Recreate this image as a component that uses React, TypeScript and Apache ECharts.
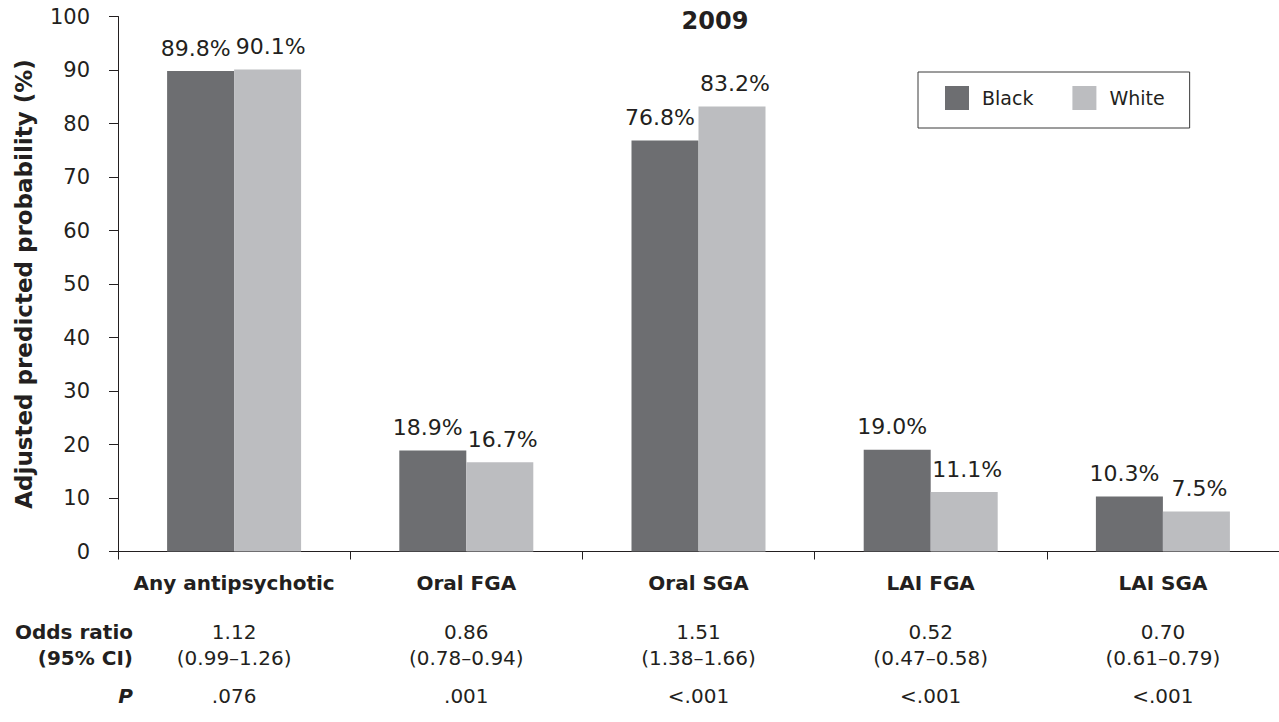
import React, { useEffect, useRef } from "react";
import * as echarts from "echarts";

const categories = ["Any antipsychotic", "Oral FGA", "Oral SGA", "LAI FGA", "LAI SGA"];
const seriesNames = ["Black", "White"];
const blackValues = [89.8, 18.9, 76.8, 19.0, 10.3];
const whiteValues = [90.1, 16.7, 83.2, 11.1, 7.5];
const oddsRatios = ["1.12", "0.86", "1.51", "0.52", "0.70"];
const confidenceIntervals = ["(0.99–1.26)", "(0.78–0.94)", "(1.38–1.66)", "(0.47–0.58)", "(0.61–0.79)"];
const pValues = [".076", ".001", "<.001", "<.001", "<.001"];
const yTicks = { min: 0, max: 100, interval: 10 };
const chartTitle = "2009";
const yAxisTitle = "Adjusted predicted probability (%)";

const FONT = "DejaVu Sans";
const TEXT = "#231f20";
const DARK = "#6d6e71";
const LIGHT = "#bcbdc0";

export default function App() {
  const ref = useRef<HTMLDivElement>(null);

  useEffect(() => {
    if (!ref.current) return;
    const chart = echarts.init(ref.current, null, { renderer: "svg" });

    const gridLeft = 118;
    const gridTop = 16.5;
    const gridHeight = 535;
    const axisY = gridTop + gridHeight;

    const tableAxis = (data: string[], offset: number) => ({
      type: "category",
      data: categories,
      gridIndex: 0,
      position: "bottom",
      offset,
      axisLine: { show: false },
      axisTick: { show: false },
      splitLine: { show: false },
      axisLabel: {
        interval: 0,
        margin: 0,
        fontFamily: FONT,
        fontSize: 20,
        color: TEXT,
        formatter: (_v: string, i: number) => data[i],
      },
    });

    const rowLabel = (text: string, y: number, italic = false) => ({
      type: "text",
      x: 133,
      y,
      style: {
        text,
        align: "right",
        verticalAlign: "middle",
        fontFamily: FONT,
        fontSize: 20,
        fontWeight: "bold",
        fontStyle: italic ? "italic" : "normal",
        fill: TEXT,
      },
    });

    const labelFmt = (p: any) => Number(p.value).toFixed(1) + "%";

    chart.setOption({
      animation: false,
      backgroundColor: "#ffffff",
      title: {
        text: chartTitle,
        left: 715,
        top: 9,
        padding: 0,
        textAlign: "center",
        textStyle: { fontFamily: FONT, fontSize: 24, fontWeight: "bold", color: TEXT },
      },
      legend: {
        data: seriesNames,
        left: 918,
        top: 72,
        orient: "horizontal",
        padding: [14, 25, 18, 27],
        itemWidth: 24,
        itemHeight: 24,
        itemGap: 39,
        icon: "rect",
        borderColor: "#3a3a3a",
        borderWidth: 1,
        textStyle: { fontFamily: FONT, fontSize: 19, color: TEXT, padding: [0, 0, 0, 8] },
      },
      grid: { left: gridLeft, top: gridTop, width: 1170, height: gridHeight, containLabel: false },
      xAxis: [
        {
          type: "category",
          data: categories,
          position: "bottom",
          axisLine: { show: true, lineStyle: { color: TEXT, width: 1 } },
          axisTick: { show: true, length: 8, lineStyle: { color: TEXT, width: 1 } },
          axisLabel: {
            interval: 0,
            margin: 21,
            fontFamily: FONT,
            fontSize: 20,
            fontWeight: "bold",
            color: TEXT,
          },
        },
        tableAxis(oddsRatios, 70.5),
        tableAxis(confidenceIntervals, 96.5),
        tableAxis(pValues, 134),
      ],
      yAxis: {
        type: "value",
        min: yTicks.min,
        max: yTicks.max,
        interval: yTicks.interval,
        name: yAxisTitle,
        nameLocation: "middle",
        nameGap: 83,
        nameRotate: 90,
        nameTextStyle: { fontFamily: FONT, fontSize: 23, fontWeight: "bold", color: TEXT },
        axisLine: { show: true, lineStyle: { color: TEXT, width: 1 } },
        axisTick: { show: true, length: 9, lineStyle: { color: TEXT, width: 1 } },
        splitLine: { show: false },
        axisLabel: { margin: 28, fontFamily: FONT, fontSize: 21, color: TEXT },
      },
      series: [
        {
          name: seriesNames[0],
          type: "bar",
          data: blackValues,
          barWidth: 67,
          barGap: "0%",
          itemStyle: { color: DARK },
          label: {
            show: true,
            position: "top",
            distance: 12,
            offset: [-5, 0],
            formatter: labelFmt,
            fontFamily: FONT,
            fontSize: 22,
            color: TEXT,
          },
        },
        {
          name: seriesNames[1],
          type: "bar",
          data: whiteValues,
          barWidth: 67,
          barGap: "0%",
          itemStyle: { color: LIGHT },
          label: {
            show: true,
            position: "top",
            distance: 12,
            offset: [3, 0],
            formatter: labelFmt,
            fontFamily: FONT,
            fontSize: 22,
            color: TEXT,
          },
        },
      ],
      graphic: [
        rowLabel("Odds ratio", axisY + 80.5),
        rowLabel("(95% CI)", axisY + 106.5),
        rowLabel("P", axisY + 144, true),
      ],
    });

    return () => chart.dispose();
  }, []);

  return (
    <div
      ref={ref}
      style={{ position: "absolute", left: 0, top: 0, width: 1279, height: 722, background: "#fff" }}
    />
  );
}
